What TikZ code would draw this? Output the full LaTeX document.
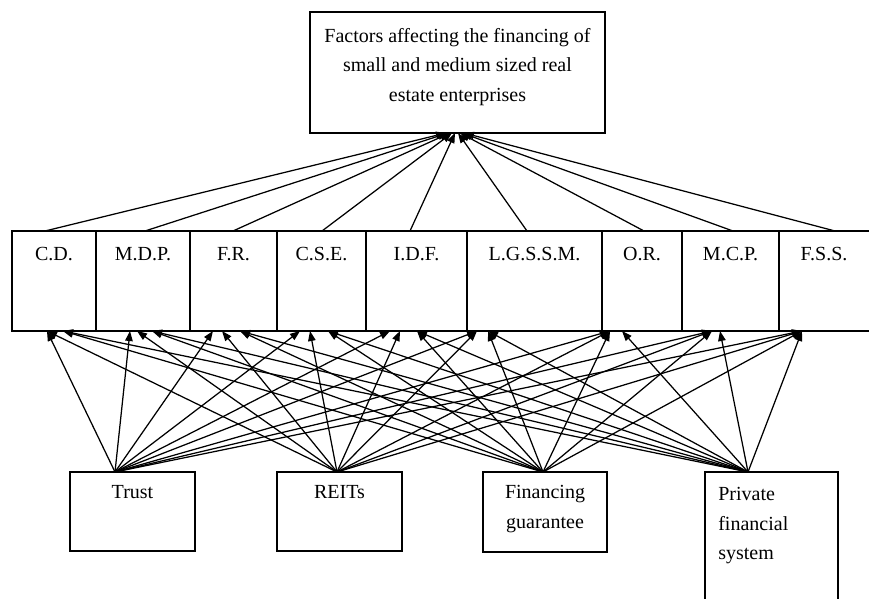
\documentclass[tikz,border=0pt]{standalone}
\usepackage{fontspec}
\setmainfont{Liberation Serif}
\usetikzlibrary{positioning,arrows.meta,calc}

\begin{document}
\begin{tikzpicture}[x=0.6pt,y=-0.6pt,
  box/.style={draw, line width=0.9pt, inner sep=0pt, outer sep=0pt, anchor=north west},
  mid/.style={box, minimum height=60pt},
  lbl/.style={anchor=north, inner sep=0pt, yshift=-9.5pt, align=center,
    font=\fontsize{12}{17.8}\selectfont},
  conn/.style={line width=0.75pt, -{Triangle[length=6pt,width=4.5pt]}}]
\useasboundingbox (0,0) rectangle (869,599);
% goal
\node[box, minimum width=177pt, minimum height=72.6pt,
  label={[lbl]north:Factors affecting the financing of\\small and medium sized real\\estate enterprises}] (goal) at (310,12) {};
% factor row
\node[mid, minimum width=50.4pt, label={[lbl]north:C.D.}] (cd) at (12,231) {};
\node[mid, minimum width=56.4pt, right=0pt of cd, label={[lbl]north:M.D.P.}] (mdp) {};
\node[mid, minimum width=52.2pt, right=0pt of mdp, label={[lbl]north:F.R.}] (fr) {};
\node[mid, minimum width=53.4pt, right=0pt of fr, label={[lbl]north:C.S.E.}] (cse) {};
\node[mid, minimum width=60.6pt, right=0pt of cse, label={[lbl]north:I.D.F.}] (idf) {};
\node[mid, minimum width=81pt, right=0pt of idf, label={[lbl]north:L.G.S.S.M.}] (lgssm) {};
\node[mid, minimum width=48pt, right=0pt of lgssm, label={[lbl]north:O.R.}] (opr) {};
\node[mid, minimum width=58.2pt, right=0pt of opr, label={[lbl]north:M.C.P.}] (mcp) {};
\node[mid, minimum width=57pt, right=0pt of mcp, label={[lbl,xshift=-1.5pt]north:F.S.S.}] (fss) {};
% financing modes
\node[box, minimum width=75pt, minimum height=47.4pt, label={[lbl,yshift=1.5pt]north:Trust}] (trust) at (70,472) {};
\node[box, minimum width=75pt, minimum height=47.4pt, label={[lbl,yshift=1.5pt]north:REITs}] (reits) at (277,472) {};
\node[box, minimum width=74.4pt, minimum height=48pt, label={[lbl,yshift=1.5pt]north:Financing\\guarantee}] (fg) at (483,472) {};
\node[box, minimum width=79.8pt, minimum height=84pt,
  label={[lbl,anchor=north west,align=left,xshift=7.8pt,yshift=0.5pt]north west:Private\\financial\\system}] (pfs) at (705,472) {};
% factors -> goal
\foreach \m/\s/\e in {cd/33/136, mdp/49/138, fr/43/140, cse/45/142, idf/44/145,
    lgssm/60/148, opr/42/150, mcp/51/152, fss/56/154}
  \draw[conn] ($(\m.north west)+(\s,0)$) -- ($(goal.south west)+(\e,0)$);
% modes -> factors
\foreach \m/\a/\b/\c/\d in {cd/35/35/51/51, mdp/34/41/56/56, fr/23/32/50/50,
    cse/23/33/51/51, idf/24/34/51/51, lgssm/10/10/21/21, opr/8/8/8/20,
    mcp/30/30/30/38, fss/23/23/23/23} {
  \draw[conn] ($(trust.north west)+(45,0)$) -- ($(\m.south west)+(\a,0)$);
  \draw[conn] ($(reits.north west)+(60,0)$) -- ($(\m.south west)+(\b,0)$);
  \draw[conn] ($(fg.north west)+(60,0)$) -- ($(\m.south west)+(\c,0)$);
  \draw[conn] ($(pfs.north west)+(43,0)$) -- ($(\m.south west)+(\d,0)$);
}
\end{tikzpicture}
\end{document}
